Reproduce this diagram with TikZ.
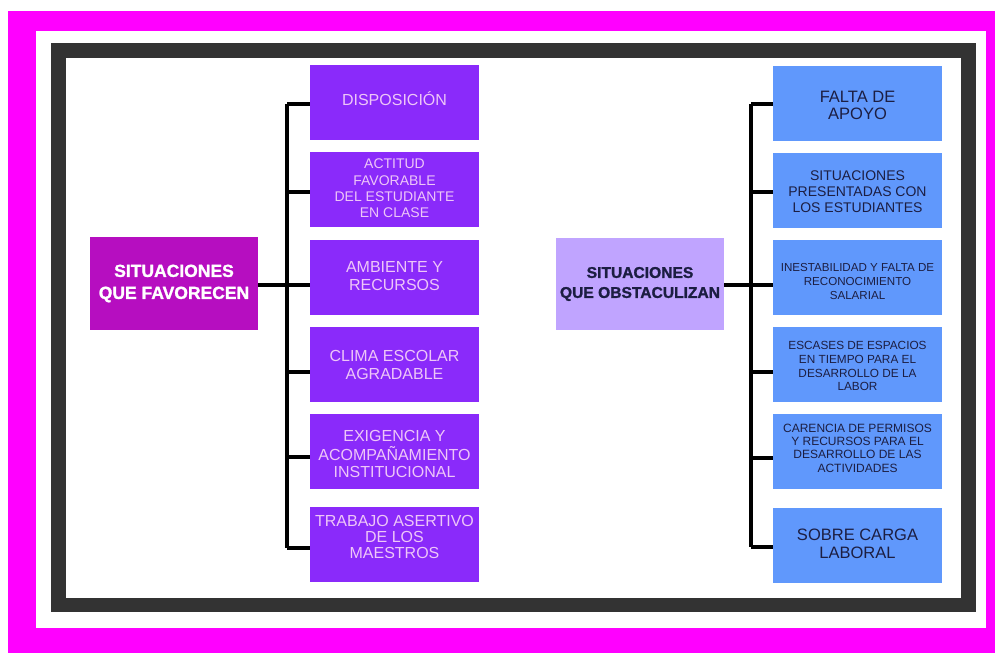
\documentclass[tikz,border=0pt]{standalone}
\usepackage{fontspec}
\setmainfont{Liberation Sans}
\newfontfamily\heavyfont[FakeBold=1.3]{Liberation Sans Bold}
\definecolor{pagepink}{RGB}{255,0,255}
\definecolor{framegray}{RGB}{51,51,51}
\definecolor{favmain}{RGB}{182,14,192}
\definecolor{favbox}{RGB}{138,42,250}
\definecolor{favtext}{RGB}{238,198,248}
\definecolor{obsmain}{RGB}{192,164,255}
\definecolor{obsbox}{RGB}{96,152,252}
\definecolor{obstext}{RGB}{28,30,66}
\newcommand{\fsz}[2]{\fontsize{#1}{#2}\selectfont}
% centred lines, raised by #1 without changing the box's reported size
\newcommand{\tl}[2]{\raisebox{#1}[\height][\depth]{\begin{tabular}{@{}c@{}}#2\end{tabular}}}
\begin{document}
\begin{tikzpicture}[x=1pt,y=-1pt,
  favhead/.style={rectangle, fill=favmain, text=white, align=center,
    minimum width=168pt, minimum height=93pt, inner sep=0pt, font=\heavyfont\fsz{17.5}{22}},
  favitem/.style={rectangle, fill=favbox, text=favtext,
    minimum width=169pt, minimum height=75pt, inner sep=0pt, font=\fsz{16}{17}},
  obshead/.style={rectangle, fill=obsmain, text=obstext, align=center,
    minimum width=168pt, minimum height=92pt, inner sep=0pt, font=\heavyfont\fsz{15.6}{20}},
  obsitem/.style={rectangle, fill=obsbox, text=obstext,
    minimum width=169pt, minimum height=75pt, inner sep=0pt, font=\fsz{16}{17}},
  conn/.style={draw=black, line width=3.5pt}]
\useasboundingbox (0,0) rectangle (995,653);
% page background and frames
\fill[white] (0,0) rectangle (995,653);
\fill[pagepink] (8,11) rectangle (995,653);
\fill[white] (36,31) rectangle (986,628);
\fill[framegray] (51,43) rectangle (976,612);
\fill[white] (66,58) rectangle (961,598);

% left tree
\node[favhead] (lm) at (174,283.5) {SITUACIONES\\QUE FAVORECEN};
\node[favitem] (l1) at (394.5,102.5) {\tl{1pt}{DISPOSICIÓN}};
\node[favitem, font=\fsz{14}{16.3}] (l2) at (394.5,189.5) {\tl{-0.5pt}{ACTITUD\\FAVORABLE\\DEL ESTUDIANTE\\EN CLASE}};
\node[favitem, font=\fsz{16}{18}] (l3) at (394.5,277) {\tl{-1pt}{AMBIENTE Y\\RECURSOS}};
\node[favitem, font=\fsz{16}{18}] (l4) at (394.5,364) {\tl{-2.5pt}{CLIMA ESCOLAR\\AGRADABLE}};
\node[favitem, font=\fsz{16}{16.5}] (l5) at (394.5,451) {\tl{-5pt}{EXIGENCIA Y\\ACOMPAÑAMIENTO\\INSTITUCIONAL}};
\node[favitem, font=\fsz{16}{15.5}] (l6) at (394.5,544.5) {\tl{5pt}{TRABAJO ASERTIVO\\DE LOS\\MAESTROS}};

\coordinate (lj1) at (287,104);
\coordinate (lj2) at (287,192);
\coordinate (lj3) at (287,285);
\coordinate (lj4) at (287,372);
\coordinate (lj5) at (287,457);
\coordinate (lj6) at (287,548);
\draw[conn] (lj1) -- (lj6);
\draw[conn] (lm.east |- lj3) -- (lj3);
\foreach \i in {1,...,6} \draw[conn] (lj\i) -- (lj\i -| l\i.west);

% right tree
\node[obshead] (rm) at (640,284) {SITUACIONES\\QUE OBSTACULIZAN};
\node[obsitem, font=\fsz{16.5}{17}] (r1) at (857.5,103) {\tl{-5pt}{FALTA DE\\APOYO}};
\node[obsitem, font=\fsz{14}{16}] (r2) at (857.5,190) {\tl{-3pt}{SITUACIONES\\PRESENTADAS CON\\LOS ESTUDIANTES}};
\node[obsitem, font=\fsz{11.6}{14}] (r3) at (857.5,277) {\tl{-6pt}{INESTABILIDAD Y FALTA DE\\RECONOCIMIENTO\\SALARIAL}};
\node[obsitem, font=\fsz{11.8}{13.8}] (r4) at (857.5,364.5) {\tl{-3pt}{ESCASES DE ESPACIOS\\EN TIEMPO PARA EL\\DESARROLLO DE LA\\LABOR}};
\node[obsitem, font=\fsz{12}{13.4}] (r5) at (857.5,451) {\tl{1.5pt}{CARENCIA DE PERMISOS\\Y RECURSOS PARA EL\\DESARROLLO DE LAS\\ACTIVIDADES}};
\node[obsitem, font=\fsz{16.5}{18}] (r6) at (857.5,545) {\tl{-1pt}{SOBRE CARGA\\LABORAL}};

\coordinate (rj1) at (751,104);
\coordinate (rj2) at (751,192);
\coordinate (rj3) at (751,285);
\coordinate (rj4) at (751,372);
\coordinate (rj5) at (751,458);
\coordinate (rj6) at (751,547);
\draw[conn] (rj1) -- (rj6);
\draw[conn] (rm.east |- rj3) -- (rj3);
\foreach \i in {1,...,6} \draw[conn] (rj\i) -- (rj\i -| r\i.west);
\end{tikzpicture}
\end{document}
